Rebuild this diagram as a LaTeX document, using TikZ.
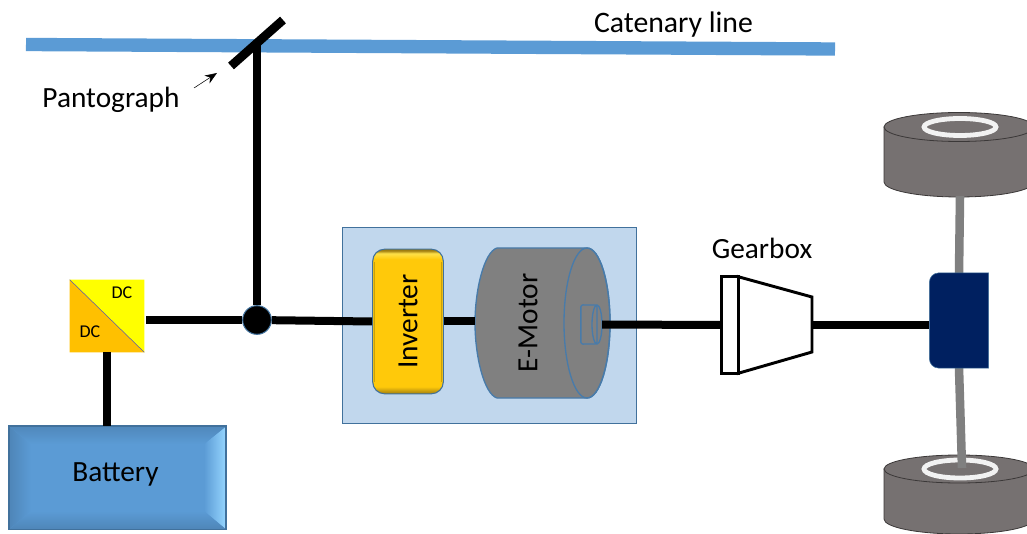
\documentclass[tikz,border=0pt]{standalone}
\usepackage{fontspec}
\setmainfont{Carlito}
\usetikzlibrary{positioning,arrows.meta}
\definecolor{wireblue}{HTML}{5B9BD5}
\definecolor{edgeblue}{HTML}{41719C}
\definecolor{boxblue}{HTML}{C1D7ED}
\definecolor{diffblue}{HTML}{002060}
\definecolor{gold}{HTML}{FFC90A}
\definecolor{golddark}{HTML}{A07E10}
\definecolor{goldlight}{HTML}{FFE24A}
\definecolor{amber}{HTML}{FFC000}
\definecolor{lemon}{HTML}{FFFF00}
\definecolor{tyre}{HTML}{767171}
\definecolor{tyreedge}{HTML}{3B3838}
\definecolor{bevellight}{HTML}{96D6FF}
\pgfdeclareverticalshading{invshade}{100bp}{color(0bp)=(golddark); color(25bp)=(golddark); color(27.5bp)=(gold); color(71.5bp)=(gold); color(73.5bp)=(goldlight); color(74.5bp)=(golddark); color(100bp)=(golddark)}
\begin{document}
\begin{tikzpicture}[
		x=0.75pt, y=-0.75pt,
		power/.style={draw=black, line width=6pt},
		axle/.style={draw=gray, line width=6.4pt},
		textlabel/.style={inner sep=0pt, font=\fontsize{22pt}{24pt}\selectfont},
		smalllabel/.style={inner sep=0pt, font=\fontsize{13.5pt}{16pt}\selectfont},
		empty/.style={rectangle, inner sep=0pt},
		junction/.style={circle, draw=edgeblue, fill=black, thick, inner sep=0pt, minimum size=21.5pt},
		frame/.style={rectangle, draw=edgeblue, fill=boxblue, thick, inner sep=0pt},
		inverter/.style={rectangle, rounded corners=9pt, draw=edgeblue, shade, shading=invshade, thick, inner sep=0pt, minimum width=53pt, minimum height=108.5pt},
		motor/.style={draw=edgeblue!75!wireblue, fill=gray, line width=1pt},
		gear/.style={draw=black, fill=white, line width=2.2pt},
		tyreshape/.style={draw=tyreedge, fill=tyre, semithick},
		ring/.style={draw=white!95!black, line width=3.6pt},
		]
		\clip[use as bounding box] (0,0) rectangle (1027,534);

		%Catenary and pantograph
		\coordinate (cat_left) at (26,44.5);
		\coordinate (cat_right) at (835,49);
		\draw[draw=wireblue, line width=10pt] (cat_left) -- (cat_right);
		\node[textlabel, font=\fontsize{22.3pt}{26pt}\selectfont] (cat_label) at (673.5,24.5) {Catenary line};
		\node[textlabel] (panto_label) at (111,99.5) {Pantograph};
		\coordinate (panto_low) at (231,66);
		\coordinate (panto_high) at (283,20);
		\coordinate (pole_top) at (257,43);
		\coordinate (panto_start) at (194,88);
		\coordinate (panto_tip) at (217,73);
		\draw[-{Stealth[length=9pt,width=7pt]}, thin] (panto_start) -- (panto_tip);
		\draw[draw=black, line width=6.6pt] (panto_low) -- (panto_high);

		%Main Nodes
		\node[junction] (node_dc) at (257,320) {};
		\node[empty, minimum width=55.5pt, minimum height=54pt] (dcdc) at (107,316) {};
		\node[empty, minimum width=162.5pt, minimum height=77pt] (battery) [below=55.5pt of dcdc, xshift=7.9pt] {};
		\node[frame, minimum width=221pt, minimum height=146.5pt] (drive_box) at (489.5,325.5) {};
		\node[inverter] (inverter) at (408,321.5) {};
		\node[empty, minimum width=101pt, minimum height=112.5pt] (emotor) at (542.5,323) {};

		%DC/DC converter
		\fill[lemon] (dcdc.north west) -- (dcdc.north east) -- (dcdc.south east) -- cycle;
		\fill[amber] (dcdc.north west) -- (dcdc.south west) -- (dcdc.south east) -- cycle;
		\draw[draw=gray!70!blue, thin] (dcdc.north west) -- (dcdc.south east);
		\node[smalllabel] (dc_high) at (122,293) {DC};
		\node[smalllabel] (dc_low) at (90,332) {DC};

		%Battery bevel
		\fill[wireblue] (battery.north west) rectangle (battery.south east);
		\shade[left color=wireblue!86!black, right color=wireblue] (battery.north west) -- ++(22,18) -- (31,511) -- (battery.south west) -- cycle;
		\shade[left color=wireblue, right color=bevellight] (battery.north east) -- ++(-22,18) -- (204,511) -- (battery.south east) -- cycle;
		\shade[top color=wireblue!88!black, bottom color=wireblue] (battery.north west) -- ++(22,18) -- (204,444) -- (battery.north east) -- cycle;
		\shade[top color=wireblue, bottom color=wireblue!86!black] (battery.south west) -- (31,511) -- (204,511) -- (battery.south east) -- cycle;
		\draw[draw=edgeblue, line width=1.2pt] (battery.north west) rectangle (battery.south east);
		\node[textlabel] (battery_text) at (115.5,474.5) {Battery};

		%Inverter
		\draw[gold!80!black, line width=1pt] (374.5,262) -- (374.5,382);
		\draw[gold!80!black, line width=1pt] (441.5,262) -- (441.5,382);
		\node[textlabel, rotate=90] (inverter_text) at (inverter) {Inverter};

		%E-Motor
		\path[motor] (497,248) -- (587,248) arc[start angle=-90, end angle=90, x radius=23, y radius=75] -- (497,398) .. controls (484,394) and (475,356) .. (475,323) .. controls (475,290) and (484,252) .. (497,248) -- cycle;
		\draw[motor, fill=none] (587,323) ellipse [x radius=23, y radius=75];
		\node[empty, minimum width=15.5pt, minimum height=29pt] (shaft) at (591.5,324.5) {};
		\draw[motor, fill=none, rounded corners=1.5pt] (shaft.north west) -- (597,305) -- (597,344) -- (shaft.south west) -- cycle;
		\draw[motor, fill=none] (597,324.5) ellipse [x radius=5, y radius=19.5];
		\node[textlabel, rotate=90] (emotor_text) at (528,323) {E-Motor};

		%Gearbox
		\node[empty, minimum width=12pt, minimum height=72pt] (gear_in) at (730,325) {};
		\coordinate[right=55.5pt of gear_in.east] (gear_out);
		\draw[gear] (gear_in.north east) -- (812,297) -- (812,352) -- (gear_in.south east) -- cycle;
		\draw[gear] (gear_in.north west) rectangle (gear_in.south east);
		\node[textlabel] (gear_label) [above=13pt of gear_in, xshift=24pt] {Gearbox};

		%Wheels
		\path[tyreshape] (884,127) -- (884,182) arc[start angle=180, end angle=0, x radius=75, y radius=15] -- (1034,127) -- cycle;
		\draw[tyreshape] (959,127) ellipse [x radius=75, y radius=14.5];
		\draw[ring] (960,127) ellipse [x radius=36, y radius=8.5];
		\path[tyreshape] (884,469) -- (884,519) arc[start angle=180, end angle=0, x radius=75, y radius=15] -- (1034,469) -- cycle;
		\draw[tyreshape] (959,469) ellipse [x radius=75, y radius=14];
		\draw[ring] (960,469) ellipse [x radius=36, y radius=9];

		%Differential
		\node[empty, minimum width=44pt, minimum height=71pt] (diff) at (959,320.5) {};
		\coordinate (axle_up) at (960,196);
		\coordinate (axle_down) at (962,468);
		\draw[axle] (diff.north) -- (axle_up);
		\draw[axle] (diff.south) -- (axle_down);
		\draw[draw=edgeblue, fill=diffblue, thin, rounded corners=7pt] (diff.north) -- (diff.north west) -- (diff.south west) -- (diff.south) [sharp corners] -- (diff.south east) -- (diff.north east) -- cycle;

		%Main Lines
		\draw[power, shorten <=1.5pt] (dcdc.east |- node_dc) -- (node_dc);
		\draw[power] (dcdc.south) -- (dcdc.south |- battery.north);
		\draw[power] (node_dc) -- (pole_top);
		\draw[power] (node_dc) -- (inverter.west);
		\draw[power] (inverter.east) -- (inverter.east -| emotor.west);
		\draw[power] (shaft.east) -- (gear_in.west);
		\draw[power] (gear_out) -- (diff.west |- gear_out);
	\end{tikzpicture}
\end{document}
